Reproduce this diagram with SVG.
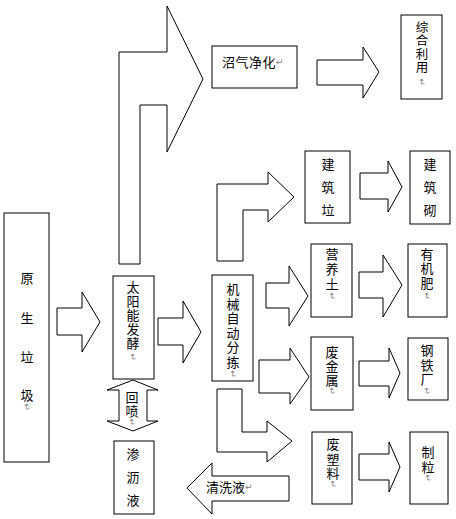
<svg xmlns="http://www.w3.org/2000/svg" width="456" height="519" viewBox="0 0 456 519">
<style>
.bg{fill:#fff}
.box{fill:#fff;stroke:#000;stroke-width:1}
.arr{fill:#fff;stroke:#000;stroke-width:1;stroke-linejoin:miter}
text{font-family:'Liberation Sans','Noto Sans CJK SC','DejaVu Sans',sans-serif;font-size:13px;fill:#000;dominant-baseline:central}
.v{text-anchor:middle}
.s{font-size:12.5px}
.m{font-size:9px;fill:#808080;text-anchor:middle}
</style>
<rect class="bg" x="0" y="0" width="456" height="519"/>
<g id="connectors">
<polygon class="arr" points="119,264 119,52 167,52 167,6 203,79 167,152 167,105 140,105 140,264"/>
<polygon class="arr" points="317,60 363,60 363,47 379,72 363,98 363,85 317,85"/>
<polygon class="arr" points="217,261 217,184 268,184 268,172 294,197 268,222 268,210 243,210 243,261"/>
<polygon class="arr" points="360,173 388,173 388,161 402,187 388,212 388,199 360,199"/>
<polygon class="arr" points="266,283 289,283 289,266 308,296 289,326 289,308 266,308"/>
<polygon class="arr" points="359,272 383,272 383,255 402,285 383,317 383,298 359,298"/>
<polygon class="arr" points="259,360 290,360 290,348 309,377 290,404 290,393 259,393"/>
<polygon class="arr" points="359,361 389,361 389,348 400,373 389,398 389,386 359,386"/>
<polygon class="arr" points="217,389 242,389 242,432 267,432 267,421 292,441 267,462 267,452 217,452"/>
<polygon class="arr" points="359,454 389,454 389,442 400,467 389,492 389,480 359,480"/>
<polygon class="arr" points="187,488 212,463 212,476 289,476 289,501 212,501 212,514"/>
<polygon class="arr" points="57,308 82,308 82,292 100,322 82,352 82,335 57,335"/>
<polygon class="arr" points="158,318 183,318 183,301 201,332 183,363 183,345 158,345"/>
<polygon class="arr" points="133,380 158,390 147,390 147,421 158,421 133,431 107,421 119,421 119,390 107,390"/>
<text x="206" y="487">清洗液<tspan class="m" style="text-anchor:start">↵</tspan></text>
<text class="v" x="132" y="397">回</text>
<text class="v" x="132" y="411">喷</text>
<text class="m" x="132" y="422" transform="rotate(90 132 422)">↵</text>
</g>
<g id="n-yuansheng">
<rect class="box" x="4" y="213" width="45" height="249"/>
<text class="v" x="27" y="278">原</text>
<text class="v" x="27" y="318">生</text>
<text class="v" x="27" y="357">垃</text>
<text class="v" x="27" y="395">圾</text>
<text class="m" x="27" y="407" transform="rotate(90 27 407)">↵</text>
</g>
<g id="n-taiyang">
<rect class="box" x="113" y="276" width="41" height="103"/>
<text class="v" x="133" y="287">太</text>
<text class="v" x="133" y="301">阳</text>
<text class="v" x="133" y="315">能</text>
<text class="v" x="133" y="329">发</text>
<text class="v" x="133" y="343">酵</text>
<text class="m" x="133" y="357" transform="rotate(90 133 357)">↵</text>
</g>
<g id="n-shenli">
<rect class="box" x="114" y="441" width="40" height="73"/>
<text class="v" x="133" y="454">渗</text>
<text class="v" x="133" y="477">沥</text>
<text class="v" x="133" y="500">液</text>
</g>
<g id="n-zhaoqi">
<rect class="box" x="212" y="46" width="85" height="42"/>
<text x="222" y="62" style="letter-spacing:0.5px">沼气净化<tspan class="m" style="text-anchor:start">↵</tspan></text>
</g>
<g id="n-zonghe">
<rect class="box" x="401" y="15" width="41" height="84"/>
<text class="v s" x="422" y="27.5">综</text>
<text class="v s" x="422" y="41">合</text>
<text class="v s" x="422" y="54.5">利</text>
<text class="v s" x="422" y="68">用</text>
<text class="m" x="422" y="82" transform="rotate(90 422 82)">↵</text>
</g>
<g id="n-jixie">
<rect class="box" x="212" y="275" width="41" height="106"/>
<text class="v" x="233" y="289">机</text>
<text class="v" x="233" y="304">械</text>
<text class="v" x="233" y="318">自</text>
<text class="v" x="233" y="333">动</text>
<text class="v" x="233" y="347">分</text>
<text class="v" x="233" y="362">拣</text>
<text class="m" x="233" y="374" transform="rotate(90 233 374)">↵</text>
</g>
<g id="n-jianzhu">
<rect class="box" x="305" y="151" width="45" height="72"/>
<text class="v" x="328" y="164">建</text>
<text class="v" x="328" y="187">筑</text>
<text class="v" x="328" y="210">垃</text>
</g>
<g id="n-jianzhuqi">
<rect class="box" x="410" y="151" width="40" height="73"/>
<text class="v" x="430" y="164">建</text>
<text class="v" x="430" y="187">筑</text>
<text class="v" x="430" y="210">砌</text>
</g>
<g id="n-yingyang">
<rect class="box" x="311" y="244" width="41" height="73"/>
<text class="v" x="332" y="254">营</text>
<text class="v" x="332" y="269">养</text>
<text class="v" x="332" y="284">土</text>
<text class="m" x="332" y="296" transform="rotate(90 332 296)">↵</text>
</g>
<g id="n-youji">
<rect class="box" x="408" y="244" width="39" height="73"/>
<text class="v" x="427" y="254">有</text>
<text class="v" x="427" y="268">机</text>
<text class="v" x="427" y="283">肥</text>
<text class="m" x="427" y="296" transform="rotate(90 427 296)">↵</text>
</g>
<g id="n-feijin">
<rect class="box" x="311" y="337" width="42" height="73"/>
<text class="v" x="332" y="352">废</text>
<text class="v" x="332" y="366">金</text>
<text class="v" x="332" y="380">属</text>
<text class="m" x="332" y="391" transform="rotate(90 332 391)">↵</text>
</g>
<g id="n-gangtie">
<rect class="box" x="408" y="338" width="40" height="62"/>
<text class="v" x="427" y="350">钢</text>
<text class="v" x="427" y="365">铁</text>
<text class="v" x="427" y="379">厂</text>
<text class="m" x="427" y="391" transform="rotate(90 427 391)">↵</text>
</g>
<g id="n-feisu">
<rect class="box" x="312" y="432" width="40" height="72"/>
<text class="v" x="333" y="444">废</text>
<text class="v" x="333" y="459">塑</text>
<text class="v" x="333" y="473">料</text>
<text class="m" x="333" y="484" transform="rotate(90 333 484)">↵</text>
</g>
<g id="n-zhili">
<rect class="box" x="410" y="432" width="38" height="72"/>
<text class="v" x="428" y="452">制</text>
<text class="v" x="428" y="467">粒</text>
<text class="m" x="428" y="478" transform="rotate(90 428 478)">↵</text>
</g>
</svg>
